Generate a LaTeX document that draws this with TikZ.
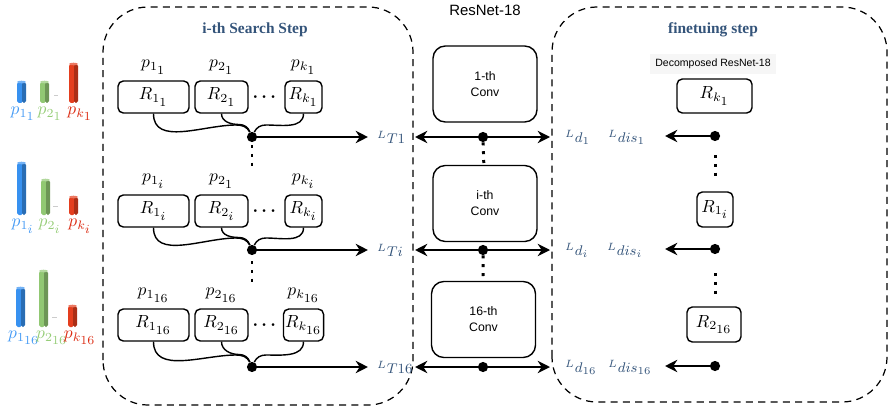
\documentclass[tikz,border=0pt]{standalone}
\usepackage{amsmath}
\usepackage{amssymb}
\usepackage{fontspec}
\newfontfamily\titleserif{Liberation Serif}
\newfontfamily\labelsans{Liberation Sans}
\usepackage{xcolor}
\definecolor{mytitle}{RGB}{52, 84, 122}
\definecolor{barblue}{RGB}{55, 145, 240}
\definecolor{bargreen}{RGB}{145, 200, 115}
\definecolor{barred}{RGB}{228, 62, 30}
\definecolor{pblue}{RGB}{70, 155, 245}
\definecolor{pgreen}{RGB}{150, 205, 120}
\definecolor{pred}{RGB}{220, 45, 20}
\usepackage{tikz}
\usetikzlibrary{
    arrows.meta,
    positioning
}
\tikzstyle{arrow} = [
    line width=1.1pt,
    -{Stealth[length=7pt, width=7pt]}
]
\tikzstyle{rbox} = [draw, thick, rounded corners=3pt, minimum height=0.64cm, inner sep=1pt]
\tikzstyle{convbox} = [draw, thick, rounded corners=7pt, minimum width=2.08cm,
    minimum height=1.52cm, align=center, font=\labelsans\fontsize{7}{9}\selectfont]
\tikzstyle{junction} = [circle, fill, inner sep=0pt, minimum size=5.8pt]
\tikzstyle{stepframe} = [draw, line width=0.7pt, rounded corners=0.9cm, dash pattern=on 4pt off 3pt]
\tikzstyle{vdots} = [line width=1.7pt, dash pattern=on 1.7pt off 3.3pt]
\tikzstyle{losslabel} = [text=mytitle, font=\footnotesize, inner sep=1pt, anchor=west]
\tikzstyle{steptitle} = [text=mytitle, font=\titleserif\bfseries\fontsize{8.8}{10}\selectfont]
% Index mit gleich grossem Unterindex
\newcommand{\sub}[3]{#1_{#2_{\scriptstyle #3}}}

\begin{document}
\begin{tikzpicture}[x=0.02cm, y=0.02cm]
\useasboundingbox (0,0) rectangle (888,413);

% Balken links
\newcommand{\pbar}[4]{
    \fill[#4, rounded corners=1pt] (#1,#2) rectangle (#1+6,#3);
    \fill[#4!75!black, rounded corners=1pt] (#1+5,#2) rectangle (#1+9,#3);
    \fill[#4!70!white] (#1+4.5,#3) ellipse (4.5 and 1.3);
}
\pbar{17}{310}{331}{barblue}
\pbar{40}{310}{331}{bargreen}
\pbar{69}{310}{349}{barred}
\draw[gray!40] (54,318) -- (58,318);
\node[text=pblue] (q11) at (23,299) {$\sub{p}{1}{1}$};
\node[text=pgreen] (q21) at (50,299) {$\sub{p}{2}{1}$};
\node[text=pred] (qk1) at (80,299) {$\sub{p}{k}{1}$};

\pbar{17}{198}{250}{barblue}
\pbar{41}{198}{233}{bargreen}
\pbar{69}{198}{216}{barred}
\draw[gray!40] (53,207) -- (58,207);
\node[text=pblue] (q1i) at (23,187) {$\sub{p}{1}{i}$};
\node[text=pgreen] (q2i) at (50,187) {$\sub{p}{2}{i}$};
\node[text=pred] (qki) at (80,187) {$\sub{p}{k}{i}$};

\pbar{16}{86}{125}{barblue}
\pbar{39}{86}{142}{bargreen}
\pbar{68}{86}{107}{barred}
\draw[gray!40] (52,96) -- (57,96);
\node[text=pblue] (q116) at (24,75) {$\sub{p}{1}{16}$};
\node[text=pgreen] (q216) at (52,75) {$\sub{p}{2}{16}$};
\node[text=pred] (qk16) at (80,75) {$\sub{p}{k}{16}$};

% Suchschritt
\draw[stepframe] (103,8) rectangle (413,406);
\node[steptitle] (searchtitle) at (255,383) {i-th Search Step};

\newcommand{\searchrow}[8]{
    \node[rbox, minimum width=1.42cm] (r1#1) at (153.5,#2) {$\sub{R}{1}{#4}$};
    \node[rbox, minimum width=1.06cm] (r2#1) at (221.5,#2) {$\sub{R}{2}{#6}$};
    \node[rbox, minimum width=0.74cm] (rk#1) at (303.5,#2) {$\sub{R}{k}{#7}$};
    \node[above=0pt of r1#1] (p1#1) {$\sub{p}{1}{#4}$};
    \node[above=0pt of r2#1] (p2#1) {$\sub{p}{2}{#5}$};
    \node[above=0pt of rk#1] (pk#1) {$\sub{p}{k}{#7}$};
    \node (dots#1) at (266,#2) {$\boldsymbol{\cdots}$};
    \node[junction] (j#1) at (252,#3) {};
    \node[losslabel] (lt#1) at (375,#3) {#8};
    \draw[thick] (r1#1.south) to[out=-90, in=180] (236,#3+12) to[out=0, in=115] (j#1);
    \draw[thick] (r2#1.south) to[out=-90, in=180] (239,#3+12.5) to[out=0, in=112] (j#1);
    \draw[thick] (rk#1.south) to[out=-90, in=0] (266,#3+12) to[out=180, in=65] (j#1);
    \draw[arrow, shorten >=4pt] (j#1) -- (lt#1.west);
}

\searchrow{a}{316}{276}{1}{1}{1}{1}{${}^{L}T1$}
\searchrow{b}{202}{163}{i}{1}{i}{i}{${}^{L}Ti$}
\searchrow{c}{88}{46}{16}{16}{16}{16}{${}^{L}T16$}

\draw[vdots] (252,268) -- (252,244);
\draw[vdots] (252,152) -- (252,128);

% ResNet-18 in der Mitte
\node[font=\labelsans\fontsize{8.5}{10}\selectfont] (resnet) at (485,403) {ResNet-18};
\node[convbox] (conv1) at (485,329) {1-th\\Conv};
\node[convbox] (conv2) at (485,209.5) {i-th\\Conv};
\node[convbox] (conv3) at (483.5,93.5) {16-th\\Conv};

\node[junction] (m1) at (483,276) {};
\node[junction] (m2) at (483,163) {};
\node[junction] (m3) at (483,46) {};
\coordinate (ml1) at (415,276);
\coordinate (mr1) at (550,276);
\coordinate (ml2) at (415,163);
\coordinate (mr2) at (550,163);
\coordinate (ml3) at (415,46);
\coordinate (mr3) at (550,46);
\draw[arrow] (m1) -- (ml1);
\draw[arrow] (m1) -- (mr1);
\draw[arrow] (m2) -- (ml2);
\draw[arrow] (m2) -- (mr2);
\draw[arrow] (m3) -- (ml3);
\draw[arrow] (m3) -- (mr3);
\draw[vdots] (m1) -- (conv2);
\draw[vdots] (m2) -- (conv3);

% Finetuning
\draw[stepframe] (552,11) rectangle (887,406);
\node[steptitle] (finetitle) at (713,383) {finetuing step};
\node[fill=gray!7, font=\labelsans\fontsize{6}{7}\selectfont, inner sep=3pt] (decomp) at (713,349) {Decomposed ResNet-18};

\node[rbox, minimum width=1.5cm, minimum height=0.68cm] (f1) at (714.5,317) {$\sub{R}{k}{1}$};
\node[rbox, minimum width=0.72cm, minimum height=0.7cm] (f2) at (715,203.5) {$\sub{R}{1}{i}$};
\node[rbox, minimum width=1.08cm, minimum height=0.7cm] (f3) at (714,88.5) {$\sub{R}{2}{16}$};

\node[junction] (fd1) at (715,277) {};
\node[junction] (fd2) at (715,164) {};
\node[junction] (fd3) at (715,47) {};
\coordinate (fa1) at (665,277);
\coordinate (fa2) at (665,164);
\coordinate (fa3) at (665,47);
\draw[arrow] (fd1) -- (fa1);
\draw[arrow] (fd2) -- (fa2);
\draw[arrow] (fd3) -- (fa3);

\node[losslabel] (ld1) at (563,276) {${}^{L}d_{1}$};
\node[losslabel] (ldis1) at (606,276) {${}^{L}dis_{1}$};
\node[losslabel] (ld2) at (563,163) {${}^{L}d_{i}$};
\node[losslabel] (ldis2) at (605,163) {${}^{L}dis_{i}$};
\node[losslabel] (ld3) at (563,46) {${}^{L}d_{16}$};
\node[losslabel] (ldis3) at (606,46) {${}^{L}dis_{16}$};

\draw[vdots] (715,258) -- (715,234);
\draw[vdots] (715,140) -- (715,116);

\end{tikzpicture}
\end{document}
